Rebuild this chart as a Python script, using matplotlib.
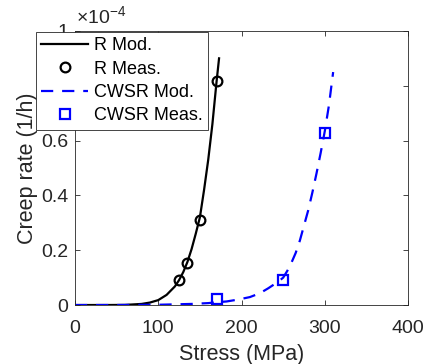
import numpy as np
import matplotlib
matplotlib.use("Agg")
from matplotlib import pyplot as plt
from matplotlib.ticker import FuncFormatter

plt.rcParams['font.family'] = ['Liberation Sans', 'DejaVu Sans']
plt.rcParams['mathtext.fontset'] = 'custom'
plt.rcParams['mathtext.rm'] = 'Liberation Sans'
plt.rcParams['mathtext.it'] = 'Liberation Sans'
plt.rcParams['axes.unicode_minus'] = False

# creep rate values in 1/h
r_mod_stress = [0, 40, 60, 80, 90, 100, 110, 120, 125, 130, 135, 140, 145, 150, 155, 160, 165, 170, 173]
r_mod_rate = [0, 0.0001e-4, 0.0005e-4, 0.004e-4, 0.009e-4, 0.018e-4, 0.037e-4, 0.068e-4, 0.091e-4,
              0.12e-4, 0.157e-4, 0.204e-4, 0.26e-4, 0.32e-4, 0.42e-4, 0.53e-4, 0.66e-4, 0.815e-4, 0.90e-4]
r_meas_stress = [125, 135, 150, 170]
r_meas_rate = [0.091e-4, 0.152e-4, 0.309e-4, 0.816e-4]

cwsr_mod_stress = [0, 50, 100, 140, 160, 170, 182, 196, 210, 222, 232, 244, 250, 255, 260, 265, 270,
                   275, 280, 285, 290, 295, 300, 305, 310]
cwsr_mod_rate = [0, 0.0001e-4, 0.001e-4, 0.004e-4, 0.007e-4, 0.010e-4, 0.013e-4, 0.020e-4, 0.029e-4,
                 0.043e-4, 0.061e-4, 0.085e-4, 0.10e-4, 0.125e-4, 0.155e-4, 0.19e-4, 0.235e-4,
                 0.29e-4, 0.345e-4, 0.41e-4, 0.48e-4, 0.555e-4, 0.635e-4, 0.73e-4, 0.85e-4]
cwsr_meas_stress = [170, 250, 300]
cwsr_meas_rate = [0.022e-4, 0.091e-4, 0.627e-4]

fig = plt.figure(figsize=(4.26, 3.64), dpi=100)
ax = fig.add_axes([0.176, 0.162, 0.782, 0.753])

ax.plot(r_mod_stress, r_mod_rate, color='k', lw=1.6, label='R Mod.')
ax.plot(r_meas_stress, r_meas_rate, 'o', color='k', mfc='none', ms=7, mew=1.6, label='R Meas.')
ax.plot(cwsr_mod_stress, cwsr_mod_rate, '--', color='b', lw=1.6, dashes=(5.5, 4), label='CWSR Mod.')
ax.plot(cwsr_meas_stress, cwsr_meas_rate, 's', color='b', mfc='none', ms=6.5, mew=1.6, label='CWSR Meas.')

ax.set_xlim(0, 400)
ax.set_ylim(0, 1e-4)
ax.set_xticks([0, 100, 200, 300, 400])
ax.set_yticks([0, 0.2e-4, 0.4e-4, 0.6e-4, 0.8e-4, 1e-4])
ax.yaxis.set_major_formatter(FuncFormatter(lambda v, p: '%g' % round(v * 1e4, 6)))
ax.annotate(r'$\times10^{-4}$', xy=(0, 1), xycoords='axes fraction', xytext=(1, 3),
            textcoords='offset points', ha='left', va='bottom', fontsize=14, color='#262626')

ax.tick_params(direction='in', length=3.5, width=0.6, labelsize=14, colors='#262626',
               top=True, right=True)
ax.tick_params(axis='x', pad=10.5)
ax.tick_params(axis='y', pad=5)
for s in ax.spines.values():
    s.set_linewidth(0.6)
    s.set_color('#262626')

ax.set_xlabel('Stress (MPa)', fontsize=15.5, color='#262626', labelpad=5)
ax.set_ylabel('Creep rate (1/h)', fontsize=15.5, color='#262626', labelpad=2)

leg = ax.legend(loc='upper left', bbox_to_anchor=(0.084, 0.912), bbox_transform=fig.transFigure,
                borderaxespad=0, fancybox=False, framealpha=1, edgecolor='#262626',
                fontsize=13, handlelength=2.6, handletextpad=0.3, borderpad=0.3,
                labelspacing=0.35)
leg.get_frame().set_linewidth(0.6)

fig.savefig('out.png', dpi=100)
